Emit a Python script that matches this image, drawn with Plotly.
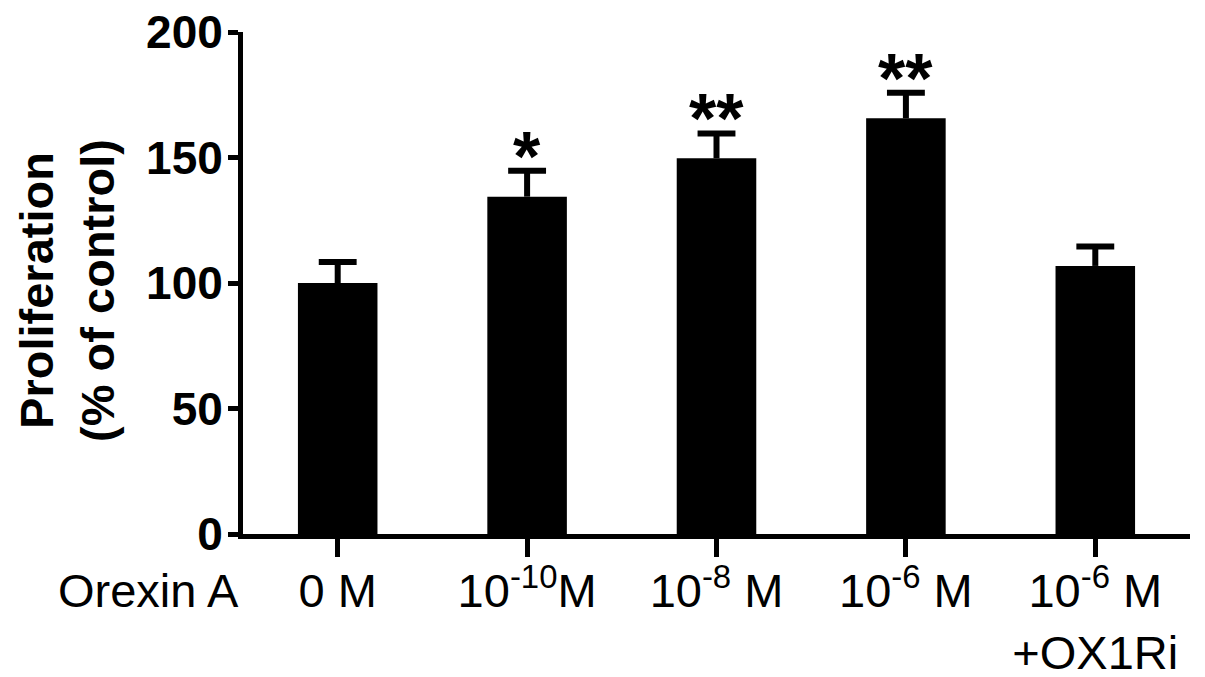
import plotly.graph_objects as go

categories = ["0 M", "10<sup>-10</sup>M", "10<sup>-8</sup> M", "10<sup>-6</sup> M", "10<sup>-6</sup> M<br>+OX1Ri"]
proliferation = [100.0, 134.4, 149.7, 165.6, 106.8]
sem = [8.4, 10.3, 9.9, 10.2, 7.7]
significance = ["", "*", "**", "**", ""]
y_ticks = [0, 50, 100, 150, 200]

xpos = list(range(len(categories)))
cap_half = 0.1

fig = go.Figure()
fig.add_trace(go.Bar(
    x=xpos, y=proliferation, width=0.42,
    marker=dict(color="black", line=dict(width=0)),
    showlegend=False, hoverinfo="skip",
))

# error bars (upper only): stems and caps built from the data
ex, ey = [], []
for xi, v, e in zip(xpos, proliferation, sem):
    ex += [xi, xi, None, xi - cap_half, xi + cap_half, None]
    ey += [v, v + e, None, v + e, v + e, None]
fig.add_trace(go.Scatter(x=ex, y=ey, mode="lines",
                         line=dict(color="black", width=6),
                         showlegend=False, hoverinfo="skip"))

for xi, v, e, s in zip(xpos, proliferation, sem, significance):
    if s:
        fig.add_annotation(x=xi, y=v + e, text=s, showarrow=False, yanchor="bottom",
                           yshift=-27, font=dict(family="Liberation Sans", size=70,
                                                 color="black", weight="bold"))

fig.add_annotation(xref="paper", yref="paper", x=-0.1, y=-0.113, text="Orexin A",
                   showarrow=False, xanchor="center", yanchor="middle",
                   font=dict(family="Liberation Sans", size=47, color="black"))

fig.add_annotation(xref="paper", yref="paper", x=-0.186, y=0.486, textangle=-90,
                   text="<b>Proliferation<br>(% of control)</b>", showarrow=False,
                   xanchor="center", yanchor="middle", borderpad=0,
                   font=dict(family="Liberation Sans", size=47, color="black"))

fig.update_layout(
    width=1205, height=677,
    margin=dict(l=243, r=15, t=32, b=143),
    plot_bgcolor="white", paper_bgcolor="white",
)
fig.update_xaxes(
    range=[-0.5, 4.5], tickvals=xpos, ticktext=categories, automargin=False,
    showline=True, linecolor="black", linewidth=5,
    ticks="outside", ticklen=18, tickwidth=5, tickcolor="black",
    ticklabelstandoff=-6, ticklabeloverflow="allow",
    tickfont=dict(family="Liberation Sans", size=47, color="black"),
    showgrid=False, zeroline=False,
)
fig.update_yaxes(
    range=[0, 200], tickvals=y_ticks, automargin=False,
    showline=True, linecolor="black", linewidth=5,
    ticks="outside", ticklen=10, tickwidth=5, tickcolor="black",
    ticklabelstandoff=-4, ticklabeloverflow="allow",
    tickfont=dict(family="Liberation Sans", size=46, color="black", weight="bold"),
    showgrid=False, zeroline=False,
)

fig.write_html("out.html", config={"displayModeBar": False},
               post_script="document.body.style.margin='0';")
